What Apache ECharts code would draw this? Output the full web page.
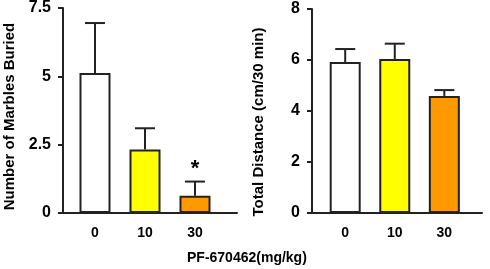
<!DOCTYPE html>
<html>
<head>
<meta charset="utf-8">
<script src="https://cdn.jsdelivr.net/npm/echarts@6/dist/echarts.min.js"></script>
<style>
  html, body { margin: 0; padding: 0; background: #fff; }
  #chart { width: 490px; height: 269px; }
</style>
</head>
<body>
<div id="chart"></div>
<script>
const doses = ['0', '10', '30'];
const barColors = ['#ffffff', '#ffff00', '#ff9900'];
const marbles = [5.12, 2.32, 0.63];
const marblesErr = [1.83, 0.78, 0.52];
const marblesSig = ['', '', '*'];
const distance = [5.92, 6.04, 4.59];
const distanceErr = [0.51, 0.6, 0.23];
const distanceSig = ['', '', ''];

const chart = echarts.init(document.getElementById('chart'));
const FONT = 'Liberation Sans';
const INK = '#222';

function barData(vals) {
  return vals.map((v, i) => ({ value: [i, v], itemStyle: { color: barColors[i] } }));
}

function errData(vals, errs, sig) {
  return vals.map((v, i) => [i, v, v + errs[i], sig[i]]);
}

function renderErr(params, api) {
  const x = api.value(0);
  const lo = api.coord([x, api.value(1)]);
  const hi = api.coord([x, api.value(2)]);
  const cap = 10;
  const children = [
    { type: 'line', shape: { x1: lo[0], y1: lo[1], x2: hi[0], y2: hi[1] }, style: { stroke: INK, lineWidth: 2 } },
    { type: 'line', shape: { x1: hi[0] - cap, y1: hi[1], x2: hi[0] + cap, y2: hi[1] }, style: { stroke: INK, lineWidth: 2 } }
  ];
  const s = api.value(3);
  if (s) {
    children.push({
      type: 'text',
      style: { text: s, x: hi[0], y: hi[1] - 2, textAlign: 'center', textVerticalAlign: 'bottom',
        font: 'bold 22px ' + FONT, fill: '#000' }
    });
  }
  return { type: 'group', children };
}

function xAx(idx, min, max) {
  return {
    type: 'value', gridIndex: idx, min, max,
    splitLine: { show: false },
    axisLine: { show: true, lineStyle: { color: INK, width: 2 } },
    axisTick: { show: false },
    axisLabel: {
      customValues: [0, 1, 2],
      formatter: v => doses[Math.round(v)],
      margin: 13, color: '#000', fontFamily: FONT, fontWeight: 'bold', fontSize: 14
    }
  };
}

function yAx(idx, max, interval, name, pad) {
  return {
    type: 'value', gridIndex: idx, min: 0, max, interval,
    name, nameLocation: 'middle', nameGap: 46,
    nameTextStyle: { color: '#000', fontFamily: FONT, fontWeight: 'bold', fontSize: 15, padding: [0, pad, 0, 0] },
    splitLine: { show: false },
    axisLine: { show: true, onZero: false, lineStyle: { color: INK, width: 2 } },
    axisTick: { show: true, inside: false, length: 5, lineStyle: { color: INK, width: 2 } },
    axisLabel: { margin: 12, color: '#000', fontFamily: FONT, fontWeight: 'bold', fontSize: 16 }
  };
}

const option = {
  animation: false,
  grid: [
    { left: 63, top: 7, width: 174, height: 206 },
    { left: 312, top: 9, width: 170, height: 204 }
  ],
  xAxis: [xAx(0, -0.64, 2.84), xAx(1, -0.67, 2.76)],
  yAxis: [
    yAx(0, 7.5, 2.5, 'Number of Marbles Buried', 12),
    yAx(1, 8, 2, 'Total Distance (cm/30 min)', 22)
  ],
  graphic: [{
    type: 'text', left: 187, top: 251,
    style: { text: 'PF-670462(mg/kg)', font: 'bold 14px ' + FONT, fill: '#000' }
  }],
  series: [
    { type: 'bar', xAxisIndex: 0, yAxisIndex: 0, barWidth: 31, data: barData(marbles),
      itemStyle: { borderColor: INK, borderWidth: 2 } },
    { type: 'custom', xAxisIndex: 0, yAxisIndex: 0, renderItem: renderErr,
      data: errData(marbles, marblesErr, marblesSig), z: 1 },
    { type: 'bar', xAxisIndex: 1, yAxisIndex: 1, barWidth: 31, data: barData(distance),
      itemStyle: { borderColor: INK, borderWidth: 2 } },
    { type: 'custom', xAxisIndex: 1, yAxisIndex: 1, renderItem: renderErr,
      data: errData(distance, distanceErr, distanceSig), z: 1 }
  ]
};
chart.setOption(option);
</script>
</body>
</html>
